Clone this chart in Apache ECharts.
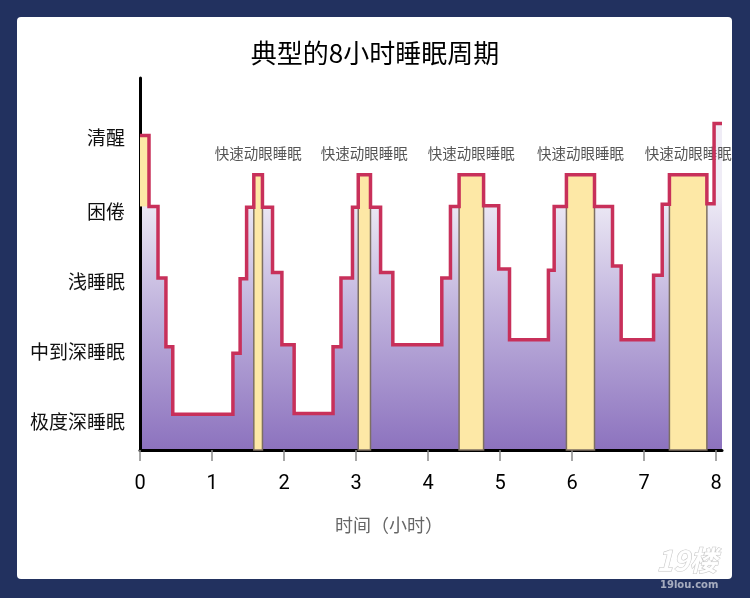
<!DOCTYPE html>
<html>
<head>
<meta charset="utf-8">
<script src="https://cdn.jsdelivr.net/npm/echarts@6/dist/echarts.min.js"></script>
<style>
html,body{margin:0;padding:0;background:#22315f;}
#chart{width:750px;height:598px;}
</style>
</head>
<body>
<div id="chart"></div>
<script>
// ---- data ----
const titleText = '典型的8小时睡眠周期';
const xAxisName = '时间（小时）';
const stageNames = ['极度深睡眠', '中到深睡眠', '浅睡眠', '困倦', '清醒'];
const stageLabelValues = [0.4, 1.4, 2.4, 3.4, 4.45];
const xTicks = [0, 1, 2, 3, 4, 5, 6, 7, 8];
// step points: time (hours) where a stage starts, and that stage's level
const times = [0, 0.125, 0.25, 0.36, 0.455, 1.29, 1.39, 1.48, 1.58, 1.70,
  1.84, 1.97, 2.14, 2.68, 2.79, 2.95, 3.03, 3.20, 3.34, 3.51,
  4.19, 4.31, 4.43, 4.77, 4.98, 5.13, 5.67, 5.75, 5.92, 6.31,
  6.56, 6.68, 7.13, 7.25, 7.35, 7.87, 7.97, 8.08];
const levels = [4.48, 3.47, 2.45, 1.47, 0.51, 1.38, 2.44, 3.46, 3.92, 3.46,
  2.53, 1.5, 0.52, 1.47, 2.45, 3.46, 3.92, 3.46, 2.53, 1.5,
  2.45, 3.47, 3.92, 3.48, 2.58, 1.57, 2.56, 3.47, 3.92, 3.47,
  2.62, 1.57, 2.49, 3.5, 3.92, 3.51, 4.65, 4.65];
const remName = '快速动眼睡眠';
const remStart = [1.58, 3.03, 4.43, 5.92, 7.35];
const remEnd = [1.70, 3.20, 4.77, 6.31, 7.87];
const remLevel = 3.92;
const wakeStart = 0, wakeEnd = 0.125, wakeLow = 3.47, wakeHigh = 4.48;

// ---- build ----
const stepData = times.map((t, i) => [t, levels[i]]);
const remAreas = remStart.map((s, i) => [
  { name: remName, xAxis: s, yAxis: 0 },
  { xAxis: remEnd[i], yAxis: remLevel }
]);
const wakeArea = [
  { name: '', xAxis: wakeStart, yAxis: wakeLow, itemStyle: { borderWidth: 0 }, label: { show: false } },
  { xAxis: wakeEnd, yAxis: wakeHigh }
];

const cjk = '"Noto Sans CJK SC", "Noto Sans", sans-serif';
const chart = echarts.init(document.getElementById('chart'), null, { renderer: 'canvas' });
chart.setOption({
  backgroundColor: '#22315f',
  animation: false,
  graphic: [
    { type: 'rect', z: -100, shape: { x: 17, y: 17, width: 715, height: 562, r: 4 }, style: { fill: '#ffffff' } },
    { type: 'text', z: 100, left: 656, top: 546, style: { text: '19楼', fill: 'rgba(255,255,255,0.9)', stroke: '#c4c4c4', lineWidth: 1, font: 'italic bold 28px ' + cjk } },
    { type: 'text', z: 100, left: 660, top: 580, style: { text: '19lou.com', fill: 'rgba(255,255,255,0.6)', font: 'bold 10px "DejaVu Sans"' } }
  ],
  title: {
    text: titleText,
    left: 'center',
    top: 35,
    textStyle: { fontFamily: cjk, fontSize: 26, fontWeight: 'normal', color: '#000' }
  },
  grid: { left: 140, right: 28, top: 78, bottom: 148 },
  xAxis: {
    type: 'value',
    min: 0,
    max: 8.08,
    splitLine: { show: false },
    axisLine: { show: true, lineStyle: { color: '#000', width: 3 } },
    axisTick: { show: true, customValues: xTicks, length: 11, lineStyle: { color: '#8a8a8a', width: 1.5 } },
    axisLabel: { customValues: xTicks, color: '#000', fontSize: 20, margin: 24, fontFamily: '"Liberation Sans Narrow", Roboto, sans-serif' },
    name: xAxisName,
    nameLocation: 'middle',
    nameGap: 66,
    nameTextStyle: { color: '#666', fontSize: 18, fontFamily: cjk, padding: [0, 84, 0, 0] }
  },
  yAxis: {
    type: 'value',
    min: 0,
    max: 5.3,
    splitLine: { show: false },
    axisLine: { show: true, lineStyle: { color: '#000', width: 3 } },
    axisTick: { show: false },
    axisLabel: {
      customValues: stageLabelValues,
      formatter: function (v) {
        let best = 0;
        stageLabelValues.forEach((s, i) => { if (Math.abs(s - v) < Math.abs(stageLabelValues[best] - v)) best = i; });
        return stageNames[best];
      },
      color: '#111', fontSize: 19, margin: 15, fontFamily: cjk
    }
  },
  series: [
    {
      type: 'line',
      step: 'end',
      data: stepData,
      showSymbol: false,
      z: 0,
      lineStyle: { width: 0, opacity: 0 },
      areaStyle: {
        opacity: 1,
        color: new echarts.graphic.LinearGradient(0, 195, 0, 450, [
          { offset: 0, color: '#efecf6' },
          { offset: 0.45, color: '#c0b3dd' },
          { offset: 1, color: '#8c72be' }
        ], true)
      },
      silent: true
    },
    {
      type: 'line',
      data: stepData,
      showSymbol: false,
      z: 3,
      lineStyle: { opacity: 0 },
      silent: true,
      markArea: {
        silent: true,
        z: 3,
        itemStyle: { color: '#fde8a6', borderColor: '#7d6f62', borderWidth: 1.5, opacity: 1 },
        label: { show: true, position: 'top', distance: 13, color: '#555', fontSize: 14.5, fontFamily: cjk },
        data: remAreas.concat([wakeArea])
      }
    },
    {
      type: 'line',
      step: 'end',
      data: stepData,
      showSymbol: false,
      z: 5,
      lineStyle: { color: '#c8305a', width: 3.5, join: 'miter' },
      silent: true
    }
  ]
});
</script>
</body>
</html>
